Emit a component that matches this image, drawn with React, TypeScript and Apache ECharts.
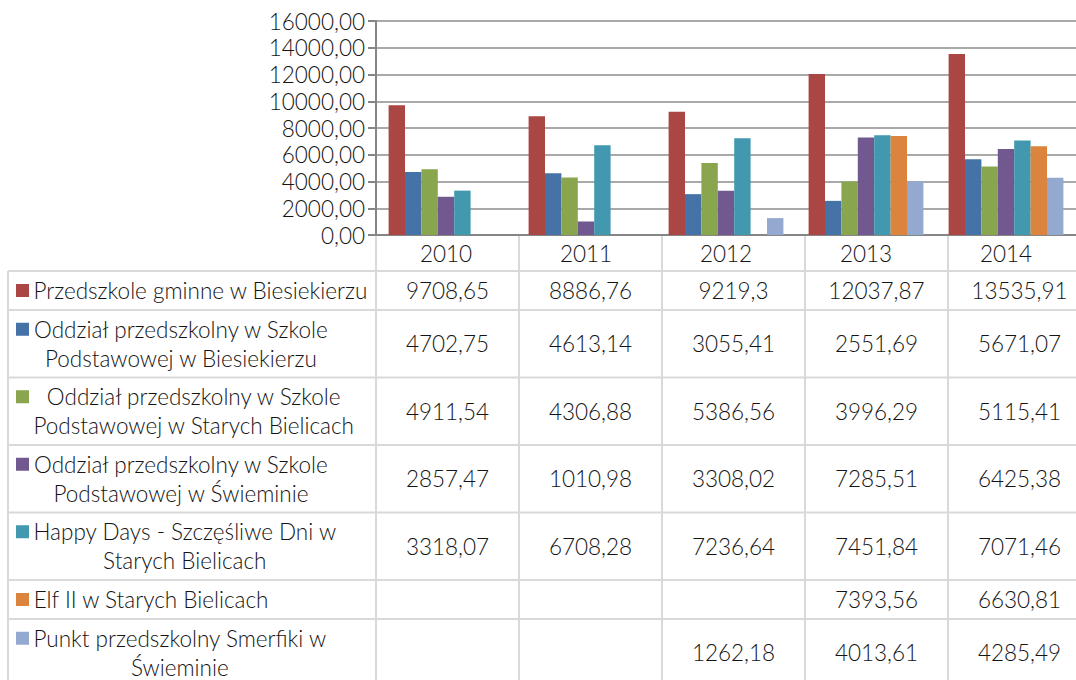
import React, { useEffect, useRef } from "react";
import * as echarts from "echarts";

const years = ["2010", "2011", "2012", "2013", "2014"];

const seriesNames = [
  "Przedszkole gminne w Biesiekierzu",
  "Oddział przedszkolny w Szkole Podstawowej w Biesiekierzu",
  "Oddział przedszkolny w Szkole Podstawowej w Starych Bielicach",
  "Oddział przedszkolny w Szkole Podstawowej w Świeminie",
  "Happy Days - Szczęśliwe Dni w Starych Bielicach",
  "Elf II w Starych Bielicach",
  "Punkt przedszkolny Smerfiki w Świeminie",
];

// wrapped legend labels as shown in the data table
const labelLines: string[][] = [
  ["Przedszkole gminne w Biesiekierzu"],
  ["Oddział przedszkolny w Szkole", "Podstawowej w Biesiekierzu"],
  ["Oddział przedszkolny w Szkole", "Podstawowej w Starych Bielicach"],
  ["Oddział przedszkolny w Szkole", "Podstawowej w Świeminie"],
  ["Happy Days - Szczęśliwe Dni w", "Starych Bielicach"],
  ["Elf II w Starych Bielicach"],
  ["Punkt przedszkolny Smerfiki w", "Świeminie"],
];

const przedszkoleGminne = [9708.65, 8886.76, 9219.3, 12037.87, 13535.91];
const oddzialBiesiekierz = [4702.75, 4613.14, 3055.41, 2551.69, 5671.07];
const oddzialStareBielice = [4911.54, 4306.88, 5386.56, 3996.29, 5115.41];
const oddzialSwiemino = [2857.47, 1010.98, 3308.02, 7285.51, 6425.38];
const happyDays = [3318.07, 6708.28, 7236.64, 7451.84, 7071.46];
const elfII: (number | null)[] = [null, null, null, 7393.56, 6630.81];
const smerfiki: (number | null)[] = [null, null, 1262.18, 4013.61, 4285.49];

const seriesData: (number | null)[][] = [
  przedszkoleGminne,
  oddzialBiesiekierz,
  oddzialStareBielice,
  oddzialSwiemino,
  happyDays,
  elfII,
  smerfiki,
];

const colors = ["#AA4643", "#4572A7", "#89A54E", "#71588F", "#4198AF", "#DB843D", "#93A9CF"];

const yMin = 0;
const yMax = 16000;
const yInterval = 2000;

const FONT = "Lato";
const FS = 22.5;
const FW = 300;
const TEXT = "#141414";

export default function App() {
  const ref = useRef<HTMLDivElement>(null);

  useEffect(() => {
    const el = ref.current!;
    const chart = echarts.init(el, null, { renderer: "svg" });

    const W = 1076;
    const H = 680;
    const gridLeft = 376;
    const gridTop = 21;
    const axisY = 235;
    const plotW = 715;
    const colW = plotW / years.length;
    const headerBottom = 271;
    const tableLeft = 8;
    const lineColor = "#d9d9d9";

    const canvas = document.createElement("canvas");
    const ctx = canvas.getContext("2d")!;
    ctx.font = `${FW} ${FS}px ${FONT}`;
    const measure = (s: string) => ctx.measureText(s).width;

    const g: any[] = [];
    const hLine = (y: number) =>
      g.push({
        type: "line",
        shape: { x1: tableLeft, y1: y, x2: W, y2: y },
        style: { stroke: lineColor, lineWidth: 2 },
        silent: true,
      });
    const vLine = (x: number, y1: number, y2: number) =>
      g.push({
        type: "line",
        shape: { x1: x, y1, x2: x, y2 },
        style: { stroke: lineColor, lineWidth: 2 },
        silent: true,
      });
    const text = (s: string, x: number, y: number, align: string) =>
      g.push({
        type: "text",
        x,
        y,
        silent: true,
        style: {
          text: s,
          fontSize: FS,
          fontFamily: FONT,
          fontWeight: FW,
          fill: TEXT,
          align,
          verticalAlign: "middle",
          textAlign: align,
          textVerticalAlign: "middle",
        },
      });

    // rows
    let top = headerBottom;
    hLine(top);
    const lh = 29;
    labelLines.forEach((lines, i) => {
      const rh = lines.length === 1 ? 39 : 67.5;
      const cy = top + rh / 2;
      const widths = lines.map(measure);
      const blockW = Math.max(...widths);
      const cx = 33 + blockW / 2;
      lines.forEach((ln, k) => {
        const ly = cy + (k - (lines.length - 1) / 2) * lh;
        text(ln, cx, ly, "center");
      });
      const firstY = cy - ((lines.length - 1) / 2) * lh;
      g.push({
        type: "rect",
        shape: { x: 16, y: firstY - 6.5, width: 13, height: 13 },
        style: { fill: colors[i] },
        silent: true,
      });
      seriesData[i].forEach((v, j) => {
        if (v === null || v === undefined) return;
        text(String(v).replace(".", ","), gridLeft + colW * (j + 0.5), cy, "center");
      });
      top += rh;
      hLine(top);
    });
    vLine(tableLeft, headerBottom, H);
    for (let j = 0; j <= years.length; j++) vLine(gridLeft + colW * j, axisY, H);

    chart.setOption({
      animation: false,
      grid: { left: gridLeft, top: gridTop, width: plotW, bottom: H - axisY, containLabel: false },
      xAxis: {
        type: "category",
        data: years,
        axisLine: { show: true, lineStyle: { color: "#868686", width: 2 } },
        axisTick: { show: false },
        axisLabel: { fontSize: FS, fontFamily: FONT, fontWeight: FW, color: TEXT, margin: 7 },
        splitLine: { show: false },
      },
      yAxis: {
        type: "value",
        min: yMin,
        max: yMax,
        interval: yInterval,
        axisLine: { show: true, lineStyle: { color: "#868686", width: 2 } },
        axisTick: { show: true, length: 8, lineStyle: { color: "#868686", width: 2 } },
        axisLabel: {
          fontSize: FS,
          fontFamily: FONT,
          fontWeight: FW,
          color: TEXT,
          margin: 11,
          formatter: (v: number) => v.toFixed(2).replace(".", ","),
        },
        splitLine: { show: true, lineStyle: { color: "#8c8c8c", width: 1.5 } },
      },
      series: seriesData.map((d, i) => ({
        name: seriesNames[i],
        type: "bar",
        data: d,
        barGap: "0%",
        barCategoryGap: "18%",
        itemStyle: { color: colors[i] },
      })),
      graphic: { elements: g },
    });

    return () => chart.dispose();
  }, []);

  return (
    <div
      ref={ref}
      style={{ position: "fixed", left: 0, top: 0, width: 1076, height: 680, background: "#fff" }}
    />
  );
}
